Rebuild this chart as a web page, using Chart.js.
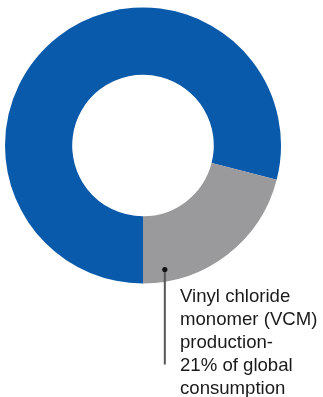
<!DOCTYPE html>
<html>
<head>
<meta charset="utf-8">
<script src="https://cdn.jsdelivr.net/npm/chart.js@4"></script>
<style>
html,body{margin:0;padding:0;background:#fff;}
#wrap{position:relative;width:323px;height:397px;overflow:hidden;}
#c{position:absolute;left:0;top:0;}
#label{position:absolute;left:180px;top:284px;font-family:"Liberation Sans",Arial,sans-serif;font-size:18.6px;line-height:23px;color:#1a1a1a;white-space:nowrap;}
</style>
</head>
<body>
<div id="wrap">
<canvas id="c" width="323" height="397"></canvas>
<div id="label">Vinyl chloride<br>monomer (VCM)<br>production-<br>21% of global<br>consumption</div>
</div>
<script>
const categories = ["Other uses", "Vinyl chloride monomer (VCM) production"];
const shares = [79, 21];
const colors = ["#0a5aab", "#9a9a9c"];

const leaderPlugin = {
  id: 'leader',
  afterDatasetsDraw(chart) {
    const arc = chart.getDatasetMeta(0).data[1];
    if (!arc) return;
    const p = arc.getProps(['x','y','startAngle','endAngle','innerRadius','outerRadius'], true);
    const a = p.startAngle + 0.868 * (p.endAngle - p.startAngle);
    const r = p.innerRadius + 0.82 * (p.outerRadius - p.innerRadius);
    const dx = p.x + Math.cos(a) * r;
    const dy = p.y + Math.sin(a) * r;
    const ctx = chart.ctx;
    ctx.save();
    ctx.strokeStyle = '#555555';
    ctx.lineWidth = 2;
    ctx.beginPath();
    ctx.moveTo(dx, dy);
    ctx.lineTo(dx, dy + 95);
    ctx.stroke();
    ctx.fillStyle = '#111111';
    ctx.beginPath();
    ctx.arc(dx, dy, 2.6, 0, Math.PI * 2);
    ctx.fill();
    ctx.restore();
  }
};

new Chart(document.getElementById('c'), {
  type: 'doughnut',
  data: {
    labels: categories,
    datasets: [{
      data: shares,
      backgroundColor: colors,
      borderWidth: 0,
      hoverOffset: 0
    }]
  },
  options: {
    responsive: false,
    animation: false,
    rotation: 180,
    cutout: '51.3%',
    layout: { padding: { left: 5, top: 7, right: 42, bottom: 113 } },
    plugins: { legend: { display: false }, tooltip: { enabled: false } }
  },
  plugins: [leaderPlugin]
});
</script>
</body>
</html>
